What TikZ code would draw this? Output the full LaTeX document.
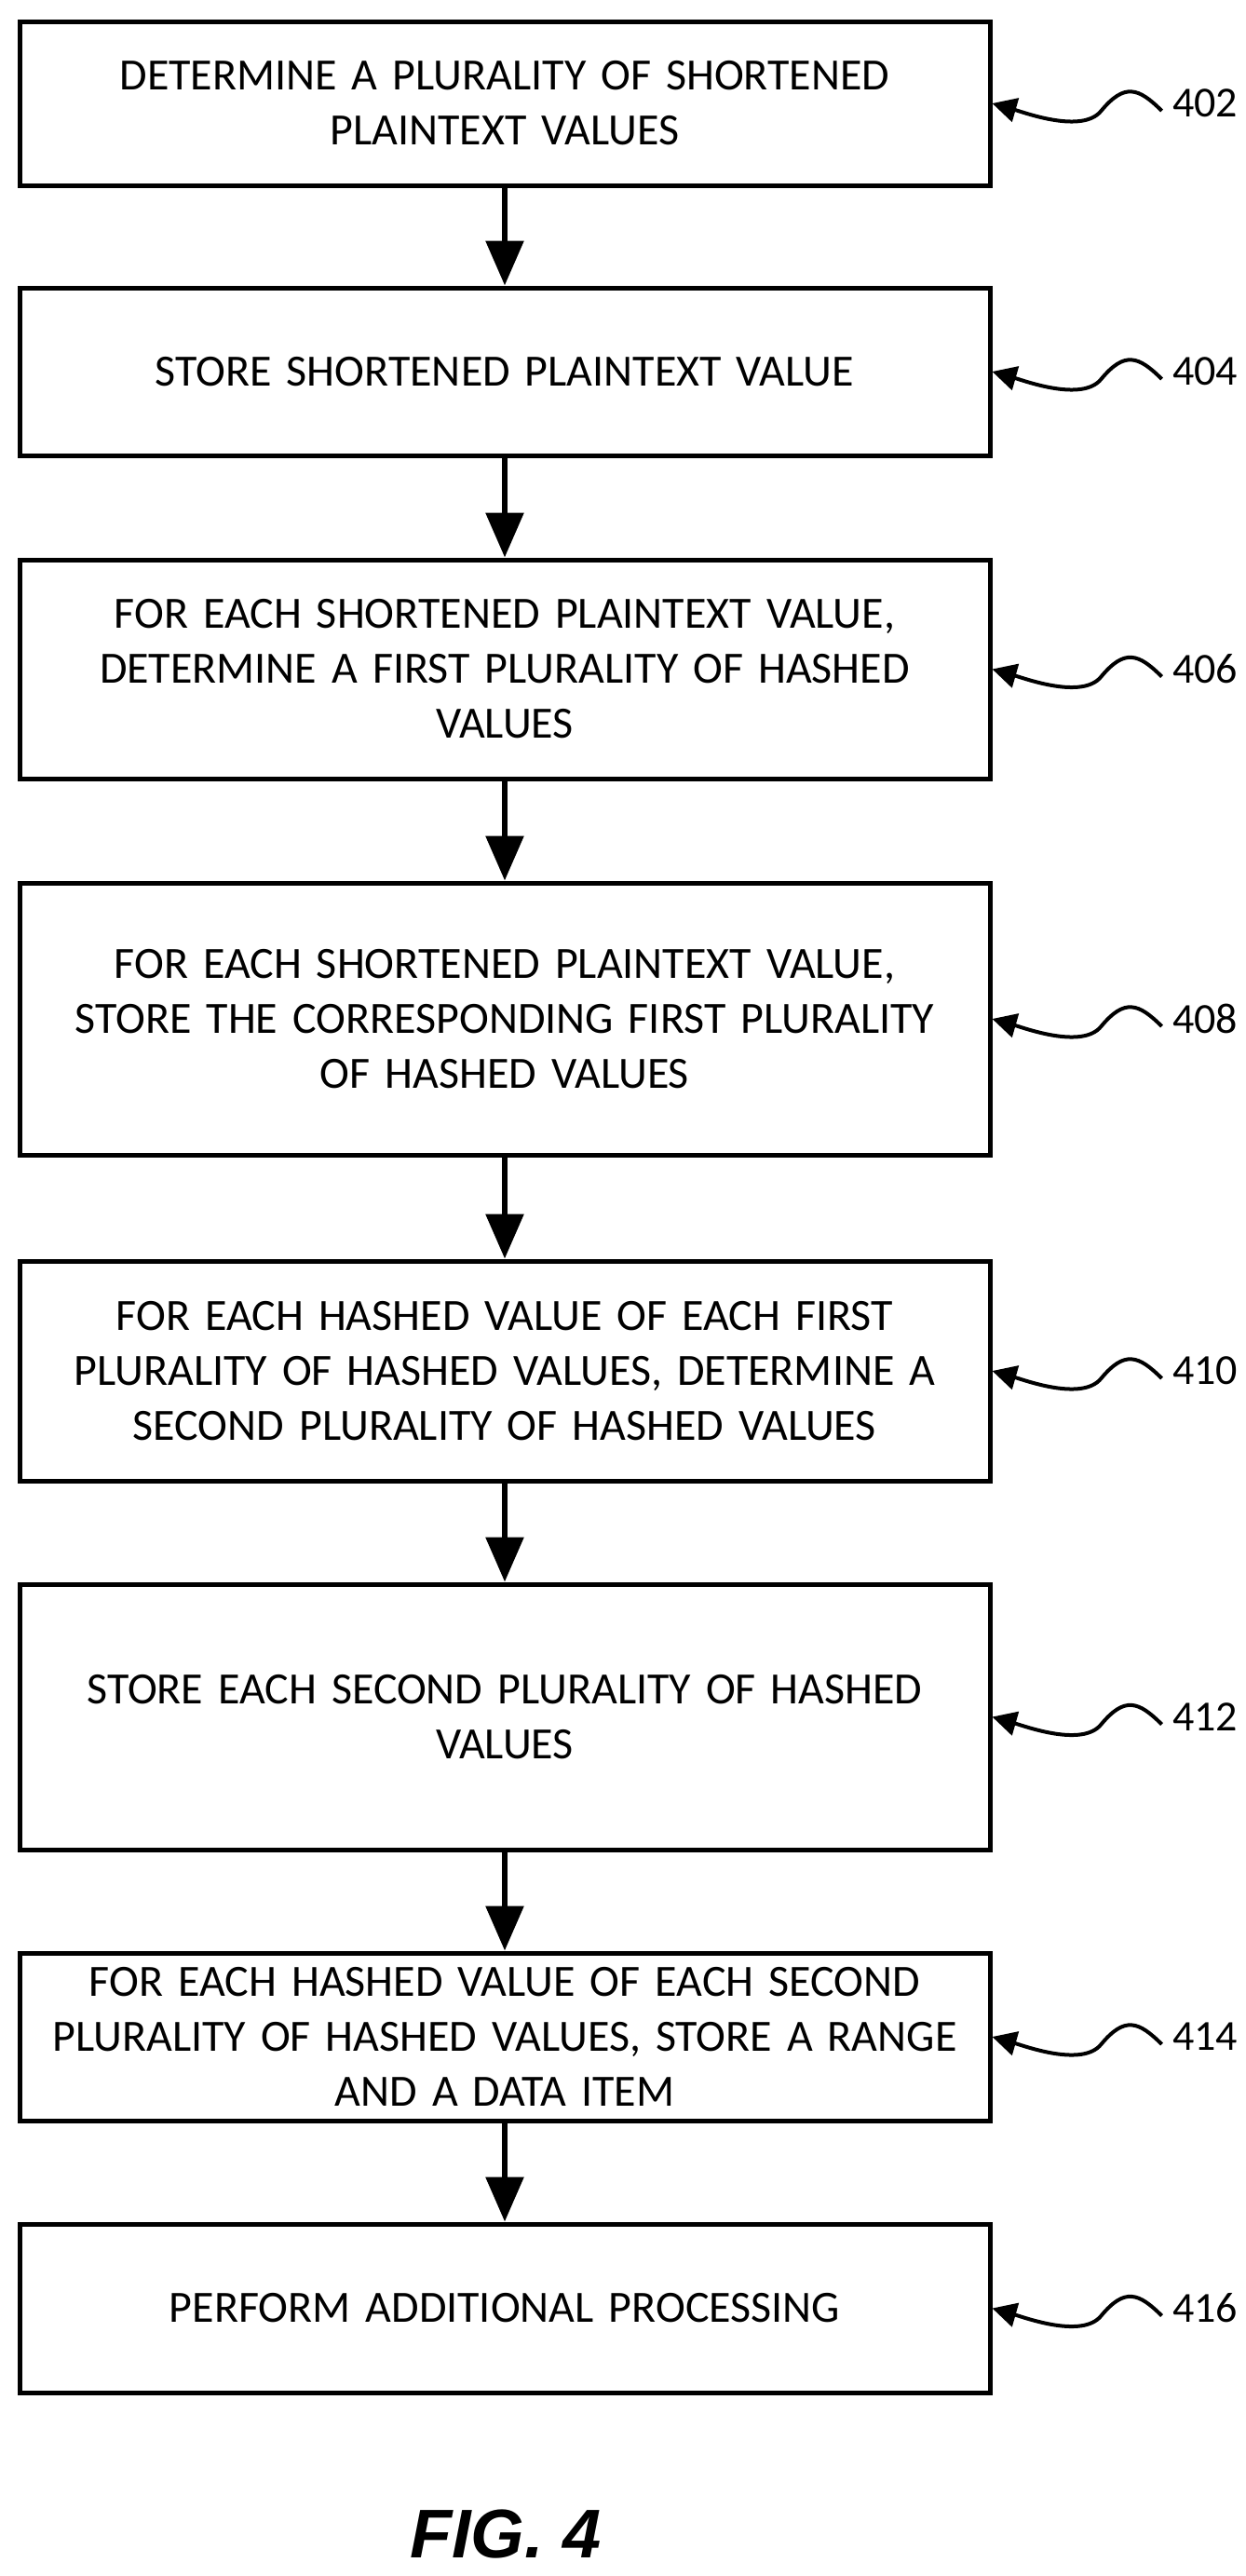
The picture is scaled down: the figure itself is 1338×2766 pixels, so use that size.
\documentclass[tikz,border=0pt]{standalone}
\usepackage{fontspec}
\setmainfont{Carlito}
\newfontfamily\figfont{Liberation Sans}
\usetikzlibrary{arrows.meta}
\begin{document}
\begin{tikzpicture}[x=1pt,y=-1pt,
  box/.style={draw,line width=5pt,minimum width=1042pt,align=center,text width=1036pt,inner sep=0pt,font=\fontsize{48}{59}\selectfont},
  flow/.style={line width=6pt,-{Triangle[length=48pt,width=40pt]}},
  lead/.style={line width=4pt,-{Triangle[length=26pt,width=26pt]}},
  num/.style={font=\fontsize{46}{55}\selectfont}]
\useasboundingbox (0,0) rectangle (1338,2766);
\def\mkbox#1#2#3#4{\node[box,minimum height=#3-#2] (#1) at (542,{(#2+#3)/2}) {#4};}
\mkbox{b402}{23}{199}{DETERMINE A PLURALITY OF SHORTENED\\PLAINTEXT VALUES}
\mkbox{b404}{309}{489}{STORE SHORTENED PLAINTEXT VALUE}
\mkbox{b406}{601}{836}{FOR EACH SHORTENED PLAINTEXT VALUE,\\DETERMINE A FIRST PLURALITY OF HASHED\\VALUES}
\mkbox{b408}{948}{1240}{FOR EACH SHORTENED PLAINTEXT VALUE,\\STORE THE CORRESPONDING FIRST PLURALITY\\OF HASHED VALUES}
\mkbox{b410}{1354}{1590}{FOR EACH HASHED VALUE OF EACH FIRST\\PLURALITY OF HASHED VALUES, DETERMINE A\\SECOND PLURALITY OF HASHED VALUES}
\mkbox{b412}{1701}{1986}{STORE EACH SECOND PLURALITY OF HASHED\\VALUES}
\mkbox{b414}{2097}{2277}{FOR EACH HASHED VALUE OF EACH SECOND\\PLURALITY OF HASHED VALUES, STORE A RANGE\\AND A DATA ITEM}
\mkbox{b416}{2388}{2569}{PERFORM ADDITIONAL PROCESSING}
\foreach \a/\b in {b402/b404,b404/b406,b406/b408,b408/b410,b410/b412,b412/b414,b414/b416}
  \draw[flow] (\a.south) -- (\b.north);
\foreach \n in {402,404,406,408,410,412,414,416}{
  \node[num,anchor=west] (l\n) at ([xshift=190pt]b\n.east) {\n};
  \coordinate (s\n) at ([xshift=-8pt,yshift=-8pt]l\n.west);
  \draw[lead] (s\n) .. controls +(-25,-25) and +(25,-30) .. ++(-65,0)
     .. controls +(-20,25) and +(35,10) .. (b\n.east);
}
\node[font=\figfont\bfseries\itshape\fontsize{74}{80}\selectfont] (fig) at (543,2721) {FIG. 4};
\end{tikzpicture}
\end{document}
